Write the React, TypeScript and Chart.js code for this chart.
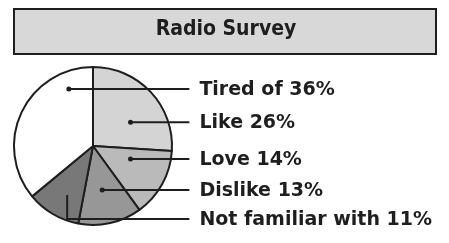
import React, { useEffect, useRef } from "react";
import { Chart, registerables } from "chart.js";

Chart.register(...registerables);

const titleText = "Radio Survey";
const categories = ["Like", "Love", "Dislike", "Not familiar with", "Tired of"];
const percentages = [26, 14, 13, 11, 36];
const sliceColors = ["#d4d4d4", "#bababa", "#979797", "#787878", "#ffffff"];
// label order on the right, top to bottom (indices into categories)
const labelOrder = [4, 0, 1, 2, 3];

// leader-line anchors, relative to pie centre in units of radius
const anchorRel: Record<number, { x: number; y: number; elbowY?: number }> = {
  4: { x: -0.306, y: -0.72 },
  0: { x: 0.475, y: -0.3 },
  1: { x: 0.475, y: 0.165 },
  2: { x: 0.116, y: 0.557 },
  3: { x: -0.327, y: 0.62, elbowY: 0.924 },
};

const annotationPlugin = {
  id: "radioAnnotations",
  beforeDraw(chart: any) {
    const ctx = chart.ctx;
    ctx.save();
    // title box
    ctx.fillStyle = "#d8d8d8";
    ctx.fillRect(14, 9, 422, 45);
    ctx.strokeStyle = "#1e1e1e";
    ctx.lineWidth = 2;
    ctx.strokeRect(14, 9, 422, 45);
    ctx.fillStyle = "#1e1e1e";
    ctx.font = 'bold 21px "DejaVu Sans Condensed", "DejaVu Sans", sans-serif';
    ctx.textAlign = "center";
    ctx.textBaseline = "middle";
    ctx.fillText(titleText, 226, 30);
    ctx.restore();
  },
  afterDraw(chart: any) {
    const ctx = chart.ctx;
    const arc = chart.getDatasetMeta(0).data[0];
    if (!arc) return;
    const cx = arc.x;
    const cy = arc.y;
    const r = arc.outerRadius;
    ctx.save();
    ctx.strokeStyle = "#1e1e1e";
    ctx.fillStyle = "#1e1e1e";
    ctx.lineWidth = 2;
    const lineEndX = cx + r * 1.22;
    const textX = lineEndX + 10;
    labelOrder.forEach((idx) => {
      const a = anchorRel[idx];
      const ax = cx + a.x * r;
      const ay = cy + a.y * r;
      const ly = a.elbowY !== undefined ? cy + a.elbowY * r : ay;
      ctx.beginPath();
      ctx.moveTo(ax, ay);
      if (a.elbowY !== undefined) ctx.lineTo(ax, ly);
      ctx.lineTo(lineEndX, ly);
      ctx.stroke();
      if (a.elbowY === undefined) {
        ctx.beginPath();
        ctx.arc(ax, ay, 2.5, 0, Math.PI * 2);
        ctx.fill();
      }
      ctx.font = 'bold 19px "DejaVu Sans", sans-serif';
      ctx.textAlign = "left";
      ctx.textBaseline = "middle";
      ctx.fillText(`${categories[idx]} ${percentages[idx]}%`, textX, ly + 1);
    });
    ctx.restore();
  },
};

export default function App() {
  const canvasRef = useRef<HTMLCanvasElement | null>(null);
  useEffect(() => {
    document.body.style.margin = "0";
    const canvas = canvasRef.current;
    if (!canvas) return;
    const chart = new Chart(canvas, {
      type: "pie",
      data: {
        labels: categories,
        datasets: [
          {
            data: percentages,
            backgroundColor: sliceColors,
            borderColor: "#1e1e1e",
            borderWidth: 2,
          },
        ],
      },
      options: {
        animation: false,
        responsive: false,
        layout: { padding: { left: 13, top: 66, right: 276, bottom: 17 } },
        plugins: {
          legend: { display: false },
          title: { display: false },
          tooltip: { enabled: false },
        },
      },
      plugins: [annotationPlugin],
    });
    return () => chart.destroy();
  }, []);
  return (
    <div style={{ width: 449, height: 243, background: "#ffffff" }}>
      <canvas ref={canvasRef} width={449} height={243} style={{ display: "block" }} />
    </div>
  );
}
